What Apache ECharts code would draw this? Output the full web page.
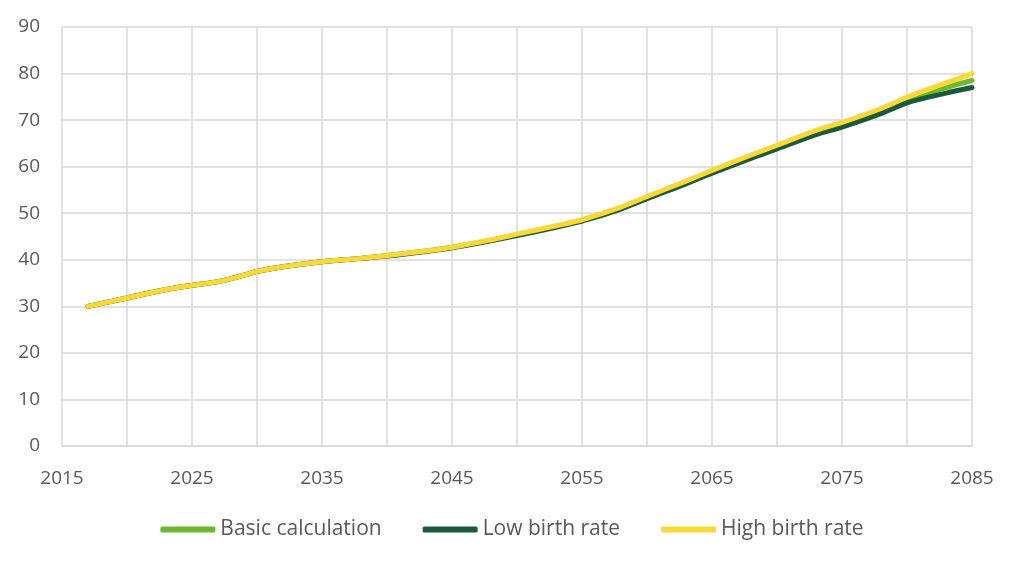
<!DOCTYPE html>
<html>
<head>
<meta charset="utf-8">
<script src="https://cdn.jsdelivr.net/npm/echarts@6/dist/echarts.min.js"></script>
<style>html,body{margin:0;padding:0;background:#fff;}#chart{width:1024px;height:567px;}</style>
</head>
<body>
<div id="chart"></div>
<script>
var years = [2017,2020,2023,2025,2027,2029,2030,2032,2035,2038,2040,2043,2045,2048,2050,2053,2055,2058,2060,2063,2065,2068,2070,2073,2075,2078,2080,2083,2085];
var basicCalc = [30.0,31.8,33.6,34.5,35.3,36.7,37.5,38.5,39.6,40.3,40.9,41.9,42.7,44.2,45.4,47.2,48.5,51.1,53.4,56.6,58.9,62.1,64.2,67.3,69.0,71.9,74.3,77.0,78.5];
var lowBirth = [30.0,31.8,33.6,34.5,35.3,36.7,37.5,38.5,39.6,40.3,40.8,41.8,42.6,44.1,45.2,47.0,48.3,50.9,53.1,56.3,58.6,61.8,63.8,66.9,68.5,71.4,73.7,75.8,77.0];
var highBirth = [30.0,31.8,33.6,34.5,35.3,36.7,37.5,38.5,39.6,40.3,40.9,41.9,42.7,44.3,45.5,47.3,48.6,51.3,53.6,56.9,59.2,62.5,64.6,67.8,69.5,72.5,74.9,78.0,80.0];
var seriesNames = ['Basic calculation','Low birth rate','High birth rate'];
var seriesColors = ['#6DB82E','#1D5A3C','#F9D838'];

function pairs(vals){ return years.map(function(y,i){ return [y, vals[i]]; }); }
var allVals = [basicCalc, lowBirth, highBirth];

var chart = echarts.init(document.getElementById('chart'), null, {renderer:'canvas'});
var textColor = '#595959';
var gridColor = '#d9d9d9';
chart.setOption({
  animation:false,
  backgroundColor:'#ffffff',
  grid:{left:62, right:52, top:27, bottom:121, containLabel:false},
  xAxis:{
    type:'value', min:2015, max:2085, interval:5,
    axisLine:{show:true, lineStyle:{color:gridColor, width:1.5}},
    axisTick:{show:false},
    splitLine:{show:true, lineStyle:{color:gridColor, width:1.5}},
    axisLabel:{
      color:textColor, fontFamily:'Open Sans', fontSize:19, margin:23,
      formatter:function(v){ return ((v-2015)%10===0) ? String(v) : ''; }
    }
  },
  yAxis:{
    type:'value', min:0, max:90, interval:10,
    axisLine:{show:false}, axisTick:{show:false},
    splitLine:{show:true, lineStyle:{color:gridColor, width:1.5}},
    axisLabel:{color:textColor, fontFamily:'Open Sans', fontSize:19, margin:22}
  },
  legend:{
    data:seriesNames, bottom:22, left:'center',
    itemWidth:55, itemHeight:6, itemGap:41, icon:'roundRect',
    textStyle:{color:textColor, fontFamily:'Open Sans', fontSize:21}
  },
  series: seriesNames.map(function(n,i){
    return {
      name:n, type:'line', data:pairs(allVals[i]), showSymbol:false, symbol:'none',
      smooth:0.3, color:seriesColors[i],
      lineStyle:{width:5, color:seriesColors[i], cap:'round', join:'round'},
      z:2+i
    };
  })
});
</script>
</body>
</html>
